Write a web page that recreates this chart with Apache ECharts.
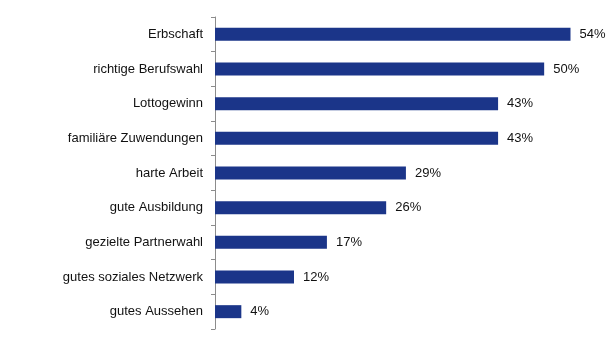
<!DOCTYPE html>
<html>
<head>
<meta charset="utf-8">
<script src="https://cdn.jsdelivr.net/npm/echarts@6/dist/echarts.min.js"></script>
<style>
  html, body { margin: 0; padding: 0; background: #fff; }
  #chart { width: 610px; height: 340px; }
</style>
</head>
<body>
<div id="chart"></div>
<script>
// Factors seen as leading to wealth, share of respondents (%)
const categories = [
  'Erbschaft',
  'richtige Berufswahl',
  'Lottogewinn',
  'familiäre Zuwendungen',
  'harte Arbeit',
  'gute Ausbildung',
  'gezielte Partnerwahl',
  'gutes soziales Netzwerk',
  'gutes Aussehen'
];
const values = [54, 50, 43, 43, 29, 26, 17, 12, 4];

const chart = echarts.init(document.getElementById('chart'));
chart.setOption({
  animation: false,
  grid: { left: 215, top: 17, width: 397, height: 312 },
  xAxis: {
    type: 'value',
    min: 0,
    max: 60,
    show: false
  },
  yAxis: {
    type: 'category',
    data: categories,
    inverse: true,
    axisLine: { show: true, lineStyle: { color: '#8c8c8c', width: 1 } },
    axisTick: { show: true, length: 4, lineStyle: { color: '#8c8c8c' } },
    axisLabel: {
      margin: 12,
      color: '#111',
      fontFamily: 'Liberation Sans, Arial, sans-serif',
      fontSize: 13
    }
  },
  series: [{
    type: 'bar',
    data: values,
    barWidth: 13,
    itemStyle: { color: '#1b3589' },
    label: {
      show: true,
      position: 'right',
      distance: 9,
      formatter: '{c}%',
      color: '#111',
      fontFamily: 'Liberation Sans, Arial, sans-serif',
      fontSize: 13
    }
  }]
});
</script>
</body>
</html>
